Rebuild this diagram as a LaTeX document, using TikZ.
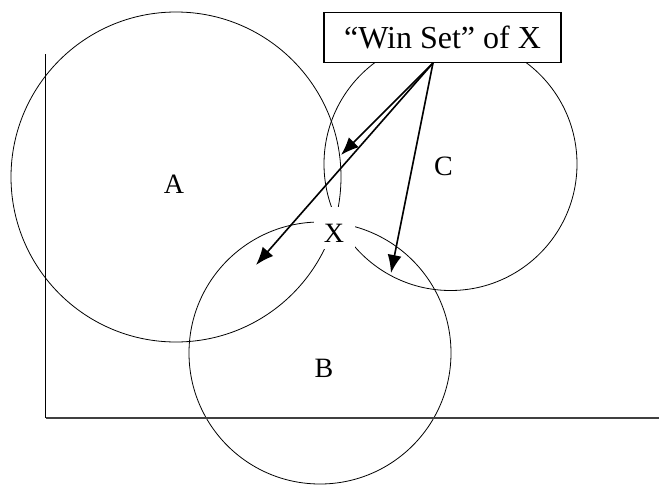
\documentclass[tikz,border=0pt]{standalone}
\usepackage{fontspec}
\setmainfont{Liberation Serif}
\usetikzlibrary{arrows.meta}

\begin{document}
\begin{tikzpicture}[
            x=1pt, y=-1pt,
            >={Latex[length=18pt, width=14pt]},
            circ/.style={draw, circle, inner sep=0pt, line width=0.8pt},
            lbl/.style={inner sep=0pt, font=\fontsize{28}{34}\selectfont},
            winbox/.style={draw, fill=white, line width=1.5pt, minimum width=237pt, minimum height=50pt, inner sep=0pt, font=\fontsize{32}{38}\selectfont},
            pointer/.style={->, line width=1.6pt}
        ]
            \useasboundingbox (0,0) rectangle (659,485);

            % Circles
            \node[circ, minimum size=330pt] (circA) at (176,177) {};
            \node[circ, minimum size=262pt] (circB) at (320,353) {};
            \node[circ, minimum size=253pt] (circC) at (450.5,164) {};
            \node[lbl] (labA) at (174,184) {A};
            \node[lbl] (labB) at (324,368) {B};
            \node[lbl] (labC) at (443.5,166) {C};

            % Axes
            \coordinate (origin) at (45.7,418);
            \coordinate (ytop) at (45.7,54);
            \coordinate (xend) at (659,418);
            \draw[line width=0.9pt] (ytop) -- (origin);
            \draw[line width=1.6pt, black!75] (origin) -- (xend);

            % Ideal point X
            \node[lbl, fill=white, anchor=base, text height=35.5pt, text depth=6.5pt, minimum width=41pt] (ptX) at (334,242) {X};

            % Win set
            \node[winbox] (win) at (442.5,37.3) {“Win Set” of X};
            \coordinate (src) at ([xshift=-9.5pt]win.south);
            \coordinate (winA) at (341,155);
            \coordinate (winB) at (256,265);
            \coordinate (winC) at (391,273);
            \draw[pointer] (src) -- (winA);
            \draw[pointer] (src) -- (winB);
            \draw[pointer] (src) -- (winC);
        \end{tikzpicture}
\end{document}
